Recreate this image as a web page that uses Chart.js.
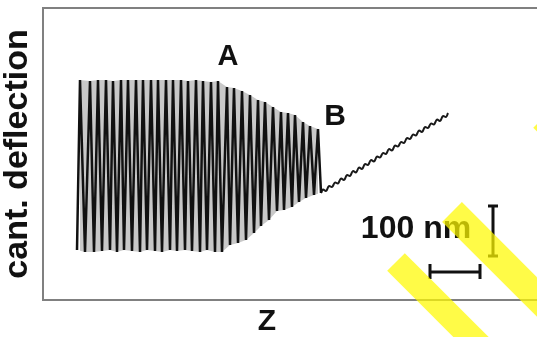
<!DOCTYPE html>
<html>
<head>
<meta charset="utf-8">
<script src="https://cdn.jsdelivr.net/npm/chart.js@4/dist/chart.umd.min.js"></script>
<style>
  html, body { margin: 0; padding: 0; background: #fff; }
  #wrap { width: 537px; height: 337px; }
</style>
</head>
<body>
<div id="wrap"><canvas id="myChart" width="537" height="337"></canvas></div>
<script>
// Z in nm, cantilever deflection in nm (100 nm scale bars in the figure)
const peakZ = [74, 94, 110, 126, 140, 156, 170, 186, 200, 216, 230, 246, 260, 276, 290, 306,
  320, 336, 350, 368, 382, 398, 414, 430, 444, 460, 476, 490, 504, 520, 534, 550];
const peakDefl = [440, 438, 440, 440, 438, 440, 440, 440, 440, 440, 440, 440, 440, 440, 438, 440,
  438, 436, 438, 426, 424, 418, 410, 400, 396, 386, 376, 374, 370, 356, 348, 342];
const troughZ = [68, 84, 102, 118, 134, 148, 162, 178, 194, 208, 224, 238, 254, 268, 284, 298,
  314, 328, 344, 358, 374, 390, 406, 422, 436, 452, 468, 482, 498, 512, 526, 542, 556];
const troughDefl = [100, 96, 96, 98, 100, 96, 100, 98, 96, 100, 98, 96, 100, 98, 100, 98,
  96, 100, 96, 96, 110, 114, 120, 134, 148, 160, 178, 180, 186, 196, 204, 210, 214];

// after point B (contact), small ripple on a straight slope
const contactZ = [556, 560, 566, 572, 578, 584, 590, 596, 602, 608, 614, 620, 626, 632, 638, 644,
  650, 656, 662, 668, 674, 680, 686, 692, 698, 704, 710, 716, 722, 728, 734, 740, 746, 752, 758,
  764, 770, 776, 782, 788, 794, 800, 806, 810];
const contactDefl = [214, 221, 218, 228, 226, 235, 233, 243, 240, 250, 248, 258, 255, 265, 262,
  272, 270, 280, 277, 287, 285, 294, 292, 302, 299, 309, 307, 316, 314, 324, 322, 331, 329, 339,
  336, 346, 344, 353, 351, 361, 358, 368, 366, 374];

const labelA = { text: "A", z: 370, d: 486 };
const labelB = { text: "B", z: 584, d: 366 };
const barText = { text: "100 nm", z: 746, d: 142 };
const hBarZ = [774, 874];
const hBarD = 56;
const vBarZ = 900;
const vBarD = [88, 188];

const FONT = "'Liberation Sans', Arial, sans-serif";

let trace = [];
for (let i = 0; i < troughZ.length; i++) {
  trace.push({ x: troughZ[i], y: troughDefl[i] });
  if (i < peakZ.length) trace.push({ x: peakZ[i], y: peakDefl[i] });
}
let topEnv = peakZ.map((z, i) => ({ x: z, y: peakDefl[i] }));
let bottomEnv = troughZ.map((z, i) => ({ x: z, y: troughDefl[i] }));
let contact = contactZ.map((z, i) => ({ x: z, y: contactDefl[i] }));

const notes = {
  id: "notes",
  afterDatasetsDraw(chart) {
    const ctx = chart.ctx;
    const xs = chart.scales.x, ys = chart.scales.y;
    const area = chart.chartArea;
    const W = chart.width;
    ctx.save();
    // frame runs off the right edge of the picture
    ctx.strokeStyle = "#808080";
    ctx.lineWidth = 2;
    ctx.beginPath();
    ctx.moveTo(area.left - 1, area.top);
    ctx.lineTo(W, area.top);
    ctx.moveTo(area.right, area.bottom);
    ctx.lineTo(W, area.bottom);
    ctx.stroke();

    ctx.fillStyle = "#111";
    ctx.textAlign = "center";
    ctx.textBaseline = "middle";
    ctx.font = "bold 29px " + FONT;
    ctx.fillText(labelA.text, xs.getPixelForValue(labelA.z), ys.getPixelForValue(labelA.d));
    ctx.font = "bold 30px " + FONT;
    ctx.fillText(labelB.text, xs.getPixelForValue(labelB.z), ys.getPixelForValue(labelB.d));
    ctx.font = "bold 32px " + FONT;
    ctx.fillText(barText.text, xs.getPixelForValue(barText.z), ys.getPixelForValue(barText.d));

    // scale bars
    ctx.strokeStyle = "#111";
    ctx.lineWidth = 3;
    let x0 = xs.getPixelForValue(hBarZ[0]), x1 = xs.getPixelForValue(hBarZ[1]);
    let yh = ys.getPixelForValue(hBarD);
    ctx.beginPath();
    ctx.moveTo(x0, yh); ctx.lineTo(x1, yh);
    ctx.moveTo(x0, yh - 8); ctx.lineTo(x0, yh + 7);
    ctx.moveTo(x1, yh - 8); ctx.lineTo(x1, yh + 7);
    let xv = xs.getPixelForValue(vBarZ);
    let y0 = ys.getPixelForValue(vBarD[0]), y1 = ys.getPixelForValue(vBarD[1]);
    ctx.moveTo(xv, y0); ctx.lineTo(xv, y1);
    ctx.moveTo(xv - 5, y0); ctx.lineTo(xv + 5, y0);
    ctx.moveTo(xv - 5, y1); ctx.lineTo(xv + 5, y1);
    ctx.stroke();

    // yellow watermark strokes over the corner
    ctx.strokeStyle = "rgba(255, 250, 0, 0.72)";
    ctx.lineCap = "butt";
    ctx.lineWidth = 25;
    ctx.beginPath();
    ctx.moveTo(396, 262); ctx.lineTo(490, 356);
    ctx.stroke();
    ctx.lineWidth = 28;
    ctx.beginPath();
    ctx.moveTo(452, 212); ctx.lineTo(590, 350);
    ctx.stroke();
    ctx.lineWidth = 22;
    ctx.beginPath();
    ctx.moveTo(541, 120); ctx.lineTo(610, 189);
    ctx.stroke();
    ctx.restore();
  }
};

const ctx = document.getElementById("myChart").getContext("2d");
const chart = new Chart(ctx, {
  type: "line",
  data: {
    datasets: [
      { data: trace, borderColor: "#111", borderWidth: 2.5, tension: 0, fill: false, order: 0 },
      { data: contact, borderColor: "#1a1a1a", borderWidth: 2, tension: 0.4, fill: false, order: 0 },
      { data: topEnv, borderWidth: 0, borderColor: "rgba(0,0,0,0)", fill: false, order: 2 },
      { data: bottomEnv, borderWidth: 0, borderColor: "rgba(0,0,0,0)", backgroundColor: "#c8c8c8", fill: "-1", order: 1 }
    ]
  },
  options: {
    responsive: false,
    animation: false,
    devicePixelRatio: 1,
    layout: { padding: { top: 8, right: 46, left: 0, bottom: 0 } },
    elements: { point: { radius: 0 } },
    plugins: { legend: { display: false }, tooltip: { enabled: false } },
    scales: {
      x: {
        type: "linear", min: 0, max: 896,
        grid: { display: false, drawTicks: false },
        ticks: { display: false },
        border: { display: true, color: "#808080", width: 2 },
        title: {
          display: true, text: "Z", color: "#111",
          font: { family: FONT, size: 30, weight: "bold", lineHeight: 1 },
          padding: { top: 7, bottom: 0 }
        }
      },
      y: {
        type: "linear", min: 0, max: 584,
        grid: { display: false, drawTicks: false },
        ticks: { display: false },
        border: { display: true, color: "#808080", width: 2 },
        title: {
          display: true, text: "cant. deflection", color: "#111",
          font: { family: FONT, size: 34, weight: "bold", lineHeight: 1 },
          padding: { top: 1, bottom: 8 }
        }
      }
    }
  },
  plugins: [notes]
});
</script>
</body>
</html>
